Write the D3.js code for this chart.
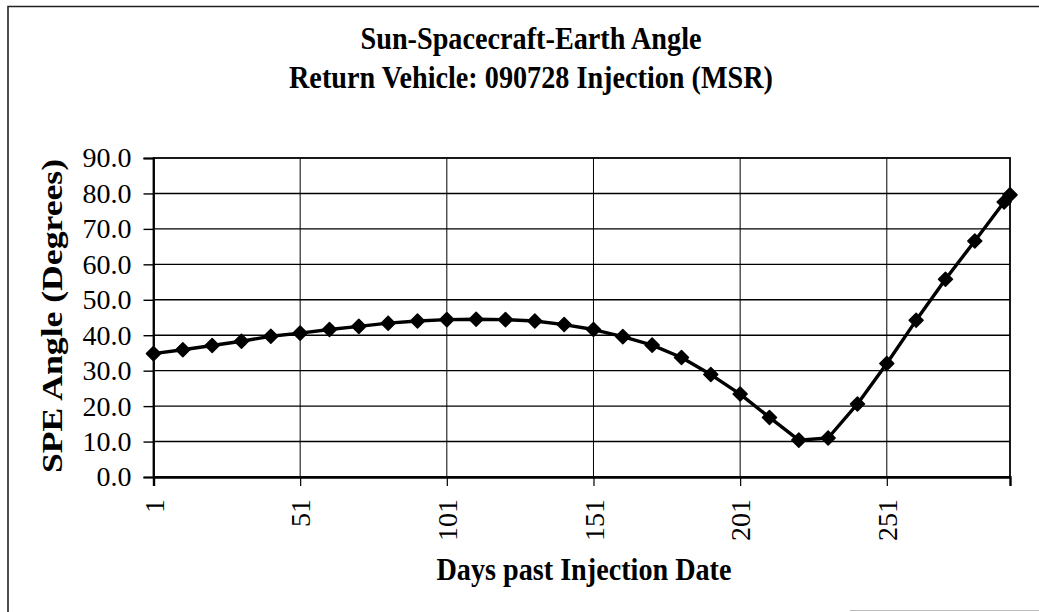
<!DOCTYPE html>
<html>
<head>
<meta charset="utf-8">
<script src="https://cdn.jsdelivr.net/npm/d3@7"></script>
<style>
  html, body { margin: 0; padding: 0; background: #fff; }
  svg { display: block; }
  text { font-family: "Liberation Serif", "Times New Roman", serif; fill: #000; }
</style>
</head>
<body>
<svg id="chart" width="1039" height="612"></svg>
<script>
// Sun-Spacecraft-Earth angle sampled along the return trajectory
const days = [1, 11, 21, 31, 41, 51, 61, 71, 81, 91, 101, 111, 121, 131, 141, 151,
              161, 171, 181, 191, 201, 211, 221, 231, 241, 251, 261, 271, 281, 291, 293];
const speAngle = [34.8, 35.9, 37.1, 38.3, 39.7, 40.6, 41.6, 42.5, 43.4, 44.0, 44.4, 44.5,
                  44.4, 44.0, 43.0, 41.6, 39.6, 37.2, 33.7, 28.9, 23.4, 16.8, 10.4, 11.0,
                  20.6, 32.0, 44.2, 55.8, 66.6, 77.6, 79.6];
const xTicks = [1, 51, 101, 151, 201, 251];
const yTicks = [0, 10, 20, 30, 40, 50, 60, 70, 80, 90];
const titleLines = ["Sun-Spacecraft-Earth Angle", "Return Vehicle: 090728 Injection (MSR)"];
const xTitle = "Days past Injection Date";
const yTitle = "SPE Angle (Degrees)";

const svg = d3.select("#chart");
const plot = { left: 153.5, right: 1010, top: 158, bottom: 477 };

const x = d3.scaleLinear().domain([1, 293]).range([plot.left, plot.right]);
const y = d3.scaleLinear().domain([0, 90]).range([plot.bottom, plot.top]);

svg.append("rect").attr("width", 1039).attr("height", 612).attr("fill", "#fff");

// chart frame
svg.append("path")
  .attr("d", "M8,612 L8,6.5 L1039,6.5")
  .attr("fill", "none").attr("stroke", "#222").attr("stroke-width", 1.6);
svg.append("line")
  .attr("x1", 850).attr("x2", 1039).attr("y1", 610.5).attr("y2", 610.5)
  .attr("stroke", "#bbb").attr("stroke-width", 1.2);

// titles (condensed bold serif)
const titleY = [49, 88];
const titleLen = [341, 484];
titleLines.forEach((t, i) => {
  svg.append("text")
    .attr("x", 531).attr("y", titleY[i])
    .attr("text-anchor", "middle")
    .attr("font-size", 31).attr("font-weight", "bold")
    .attr("textLength", titleLen[i]).attr("lengthAdjust", "spacingAndGlyphs")
    .text(t);
});

// horizontal gridlines
svg.append("g")
  .selectAll("line").data(yTicks.filter(v => v > 0 && v < 90)).join("line")
  .attr("x1", plot.left).attr("x2", plot.right)
  .attr("y1", d => y(d)).attr("y2", d => y(d))
  .attr("stroke", "#000").attr("stroke-width", 1.4);

// vertical gridlines
svg.append("g")
  .selectAll("line").data(xTicks.filter(v => v > 1)).join("line")
  .attr("x1", d => x(d)).attr("x2", d => x(d))
  .attr("y1", plot.top).attr("y2", plot.bottom)
  .attr("stroke", "#000").attr("stroke-width", 1);

// plot border
svg.append("rect")
  .attr("x", plot.left).attr("y", plot.top)
  .attr("width", plot.right - plot.left).attr("height", plot.bottom - plot.top)
  .attr("fill", "none").attr("stroke", "#000").attr("stroke-width", 1.8);

// y axis
const yAxis = d3.axisLeft(y).tickValues(yTicks).tickFormat(d3.format(".1f"))
  .tickSize(10).tickPadding(12);
const gy = svg.append("g").attr("transform", `translate(${plot.left},0)`).call(yAxis);
gy.select(".domain").attr("stroke", "#000").attr("stroke-width", 1.8);
gy.selectAll(".tick line").attr("stroke", "#000").attr("stroke-width", 1.4);
gy.selectAll(".tick text").attr("font-size", 28)
  .attr("font-family", "Liberation Serif, Times New Roman, serif").attr("fill", "#000");

// x axis
const xAxis = d3.axisBottom(x).tickValues(xTicks).tickFormat(d3.format("d"))
  .tickSize(9).tickPadding(0);
const gx = svg.append("g").attr("transform", `translate(0,${plot.bottom})`).call(xAxis);
gx.select(".domain").attr("stroke", "#000").attr("stroke-width", 2.4);
gx.selectAll(".tick line").attr("stroke", "#000").attr("stroke-width", 1.2);
gx.selectAll(".tick text")
  .attr("font-size", 28)
  .attr("font-family", "Liberation Serif, Times New Roman, serif").attr("fill", "#000")
  .attr("text-anchor", "end")
  .attr("transform", "translate(0,22) rotate(-90)")
  .attr("x", 0).attr("y", 0).attr("dy", "0.35em");

// axis titles
svg.append("text")
  .attr("x", 584).attr("y", 580)
  .attr("text-anchor", "middle")
  .attr("font-size", 31).attr("font-weight", "bold")
  .attr("textLength", 295).attr("lengthAdjust", "spacingAndGlyphs")
  .text(xTitle);

svg.append("text")
  .attr("transform", "translate(62,316) rotate(-90)")
  .attr("text-anchor", "middle")
  .attr("font-size", 30).attr("font-weight", "bold")
  .attr("textLength", 314).attr("lengthAdjust", "spacingAndGlyphs")
  .text(yTitle);

// series line and diamond markers
const pts = days.map((d, i) => [d, speAngle[i]]);
svg.append("path")
  .datum(pts)
  .attr("d", d3.line().x(d => x(d[0])).y(d => y(d[1])))
  .attr("fill", "none").attr("stroke", "#000").attr("stroke-width", 3.4)
  .attr("stroke-linejoin", "round");

const diamond = d3.symbol().type(d3.symbolDiamond2).size(125);
svg.append("g")
  .selectAll("path").data(pts).join("path")
  .attr("transform", d => `translate(${x(d[0])},${y(d[1])})`)
  .attr("d", diamond)
  .attr("fill", "#000").attr("stroke", "#000").attr("stroke-width", 1.5)
  .attr("stroke-linejoin", "round");
</script>
</body>
</html>
